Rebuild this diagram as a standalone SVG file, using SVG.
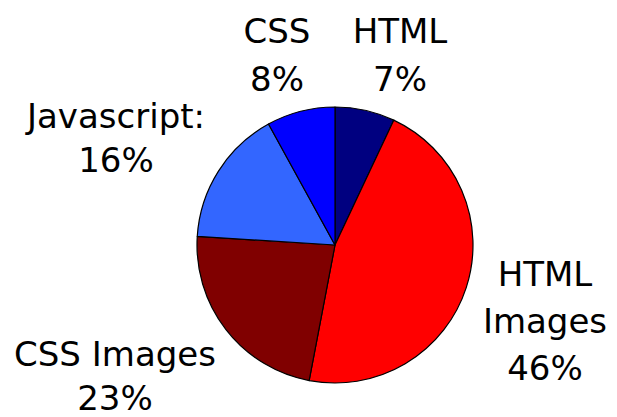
<svg xmlns="http://www.w3.org/2000/svg" width="617" height="417" viewBox="0 0 617 417">
<style>
.s{stroke:#000;stroke-width:1.2;stroke-linejoin:round}
.t{font-family:"DejaVu Sans","Verdana",sans-serif;font-size:34px;fill:#000;text-anchor:middle}
</style>
<rect width="617" height="417" fill="#fff"/>
<g id="slice-html"><path class="s" fill="#000080" d="M335,245 L335,107 A138,138 0 0 1 393.76,120.14 Z"/></g>
<g id="slice-html-images"><path class="s" fill="#FF0000" d="M335,245 L393.76,120.14 A138,138 0 0 1 309.14,380.56 Z"/></g>
<g id="slice-css-images"><path class="s" fill="#800000" d="M335,245 L309.14,380.56 A138,138 0 0 1 197.27,236.33 Z"/></g>
<g id="slice-javascript"><path class="s" fill="#3366FF" d="M335,245 L197.27,236.33 A138,138 0 0 1 268.51,124.07 Z"/></g>
<g id="slice-css"><path class="s" fill="#0000FF" d="M335,245 L268.51,124.07 A138,138 0 0 1 335,107 Z"/></g>
<g id="connectors"></g>
<g id="label-css"><text class="t" x="277" y="43">CSS</text><text class="t" x="277" y="91">8%</text></g>
<g id="label-html"><text class="t" x="400" y="43">HTML</text><text class="t" x="400" y="91">7%</text></g>
<g id="label-javascript"><text class="t" x="116" y="128">Javascript:</text><text class="t" x="116" y="172">16%</text></g>
<g id="label-css-images"><text class="t" x="115" y="366">CSS Images</text><text class="t" x="115" y="410">23%</text></g>
<g id="label-html-images"><text class="t" x="545" y="286">HTML</text><text class="t" x="545" y="333">Images</text><text class="t" x="545" y="380">46%</text></g>
</svg>
